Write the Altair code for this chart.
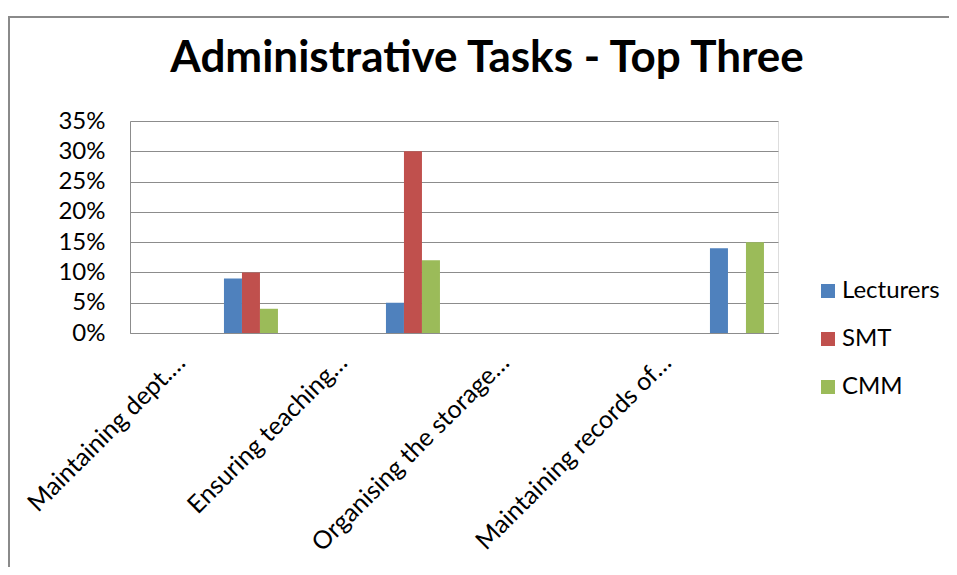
import altair as alt
import pandas as pd

categories = ["Maintaining dept.…", "Ensuring teaching…", "Organising the storage…", "Maintaining records of…"]
series = ["Lecturers", "SMT", "CMM"]
lecturers = [0.09, 0.05, 0.0, 0.14]
smt = [0.10, 0.30, 0.0, 0.0]
cmm = [0.04, 0.12, 0.0, 0.15]
colors = ["#4F81BD", "#C0504D", "#9BBB59"]
y_ticks = [0, 0.05, 0.10, 0.15, 0.20, 0.25, 0.30, 0.35]
# empty slots that push the bars to the right side of each category, as in the original
offset_slots = ["_s1", "_s2", "_s3", "_s4", "_s5"] + series

rows = []
for name, vals in zip(series, [lecturers, smt, cmm]):
    for cat, v in zip(categories, vals):
        rows.append({"task": cat, "series": name, "value": v})
df = pd.DataFrame(rows)

FONT = "Lato"
GRID = "#8c8c8c"
FS = 24

bars = alt.Chart(df).mark_bar(strokeWidth=0).encode(
    x=alt.X(
        "task:N",
        sort=categories,
        scale=alt.Scale(domain=categories, paddingInner=0, paddingOuter=0),
        axis=alt.Axis(
            title=None, labelAngle=-45, labelAlign="right", labelBaseline="middle",
            labelOffset=-30, labelPadding=25, ticks=False, domainColor=GRID,
            labelFontSize=25, labelFont=FONT, labelColor="#000000", grid=False,
            labelLimit=500, labelOverlap=False,
        ),
    ),
    xOffset=alt.XOffset(
        "series:N",
        scale=alt.Scale(domain=offset_slots, paddingInner=0, paddingOuter=0.5, align=0.22),
    ),
    y=alt.Y(
        "value:Q",
        scale=alt.Scale(domain=[0, 0.35], nice=False),
        axis=alt.Axis(
            title=None, values=y_ticks, format=".0%", ticks=False, domainColor=GRID,
            gridColor=GRID, labelFontSize=FS, labelFont=FONT, labelColor="#000000",
            labelPadding=25,
        ),
    ),
    color=alt.Color(
        "series:N", sort=series,
        scale=alt.Scale(domain=series, range=colors),
        legend=alt.Legend(
            title=None, orient="none", legendX=686, legendY=158, direction="vertical",
            symbolType="square", symbolSize=196, symbolStrokeWidth=0,
            labelFontSize=FS, labelFont=FONT, labelColor="#000000", rowPadding=24,
            labelOffset=2, padding=0,
        ),
    ),
)

frame = alt.Chart(pd.DataFrame({"a": [0]})).mark_rect(
    fill="transparent", stroke="#8a8a8a", strokeWidth=2
).encode(
    x=alt.value(-121), y=alt.value(-104), x2=alt.value(1000), y2=alt.value(800)
)

chart = alt.layer(frame, bars).properties(
    width=648,
    height=212,
    padding={"left": 122, "top": 113, "right": 171, "bottom": 234},
    autosize=alt.AutoSizeParams(type="none"),
    title=alt.TitleParams(
        "Administrative Tasks - Top Three", font=FONT, fontSize=44, fontWeight="bold",
        color="#000000", anchor="middle", dx=33, offset=-100, baseline="alphabetic",
    ),
).configure_view(stroke=None).configure(background="white")

chart.save("out.html", embed_options={"renderer": "svg", "actions": False})
